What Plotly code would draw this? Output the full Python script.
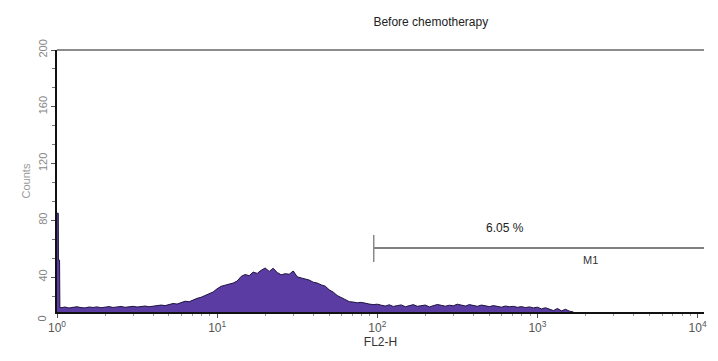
import numpy as np
import plotly.graph_objects as go

# ---- data ----
# FL2-H channel positions, given as log10 values, and histogram counts
fl2_log = [0.0, 0.008, 0.009, 0.016, 0.018] + [round(0.025 * i, 3) for i in range(1, 133)]
counts = [85.0, 85.0, 52.0, 52.0, 18.5,
          18.4, 18.9, 18.2, 18.7, 19.1, 18.5, 18.3, 18.9, 18.6, 19.0, 18.4, 18.8,
          19.2, 18.6, 18.9, 19.3, 18.7, 19.0, 19.4, 18.9, 19.2, 19.6, 19.1, 19.5,
          19.8, 20.3, 19.9, 20.8, 21.4, 21.0, 22.2, 23.0, 22.6, 24.1, 25.0, 25.8,
          26.9, 28.3, 29.5, 31.8,
          33.5, 34.3, 35.0, 35.8, 37.2, 40.5, 41.8, 41.0, 43.5, 42.6, 44.8, 46.4,
          44.0, 46.2, 43.2, 41.6, 42.4, 42.0, 44.3, 40.2,
          39.4, 38.6, 37.9, 36.4, 35.8, 34.5, 33.6, 31.0, 29.4, 27.0, 25.6, 23.8,
          22.7, 22.4, 21.9, 22.2, 21.4, 21.0, 20.6, 20.9,
          20.2, 19.6, 20.5, 19.3, 19.9, 20.4, 19.1, 19.8, 20.6, 19.4, 19.7, 20.3,
          19.0, 19.9, 20.7, 20.1, 19.5, 20.2, 19.8, 20.9, 20.4, 19.6, 20.6, 20.0,
          19.4, 20.3, 19.7, 19.2, 19.9, 19.5, 18.8, 19.6, 19.1, 19.4, 18.7, 19.2,
          18.5, 19.0, 18.3, 18.8,
          17.6, 18.4, 17.2, 16.4, 17.9, 16.2, 17.3, 16.0, 15.4, 0.0, 0.0, 0.0]

x_ticks = [1, 10, 100, 1000, 10000]
x_ticktext = ["10<sup>0</sup>", "10<sup>1</sup>", "10<sup>2</sup>", "10<sup>3</sup>", "10<sup>4</sup>"]
x_minor = [m * d for d in (1, 10, 100, 1000) for m in range(2, 10)]
y_ticks = [40, 80, 120, 160, 200]

title_text = "Before chemotherapy"
x_title = "FL2-H"
y_title = "Counts"

# M1 gate marker
gate_start = 95
gate_end = 10960
gate_y = 60.5
gate_bar = (50.6, 69.7)
gate_label = "M1"
gate_pct = "6.05 %"
pct_pos = (627, 74.6)
m1_pos = (2150, 52)

fl2 = [10 ** v for v in fl2_log]

FONT = "Liberation Sans, Arial, sans-serif"

fig = go.Figure()
fig.add_trace(go.Scatter(
    x=fl2, y=counts, mode="lines", fill="tozeroy",
    line=dict(color="#1e1240", width=1),
    fillcolor="#5a3ca2", showlegend=False, hoverinfo="skip"))

# top frame line
fig.add_shape(type="line", xref="paper", yref="paper", x0=0, x1=1, y0=1, y1=1,
              line=dict(color="#666666", width=1.5))
# gate
fig.add_shape(type="line", x0=gate_start, x1=gate_end, y0=gate_y, y1=gate_y,
              xref="x", yref="y", line=dict(color="#555555", width=1.5))
fig.add_shape(type="line", x0=gate_start, x1=gate_start, y0=gate_bar[0], y1=gate_bar[1],
              xref="x", yref="y", line=dict(color="#888888", width=1.5))
fig.add_annotation(x=np.log10(pct_pos[0]), y=pct_pos[1], text=gate_pct, showarrow=False,
                   font=dict(family=FONT, size=12, color="#222222"))
fig.add_annotation(x=np.log10(m1_pos[0]), y=m1_pos[1], text=gate_label, showarrow=False,
                   font=dict(family=FONT, size=11, color="#333333"))
# "0" label at the bottom of the y axis
fig.add_annotation(xref="paper", yref="paper", x=-0.036, y=-0.045, text="0",
                   textangle=-90, showarrow=False,
                   font=dict(family=FONT, size=11, color="#777777"))

fig.update_layout(
    width=718, height=361,
    margin=dict(l=57, r=11, t=50, b=49),
    paper_bgcolor="white", plot_bgcolor="white",
    font=dict(family=FONT, size=11, color="#333333"),
    title=dict(text=title_text, x=0.6, xref="container", y=0.94, yref="container",
               xanchor="center", yanchor="middle",
               font=dict(family=FONT, size=12, color="#222222")),
    xaxis=dict(type="log", range=[0, 4.04], tickvals=x_ticks, ticktext=x_ticktext,
               showgrid=False, zeroline=False, showline=True, linecolor="#111111",
               linewidth=1.5, ticks="outside", ticklen=4, tickcolor="#555555",
               tickfont=dict(family=FONT, size=12, color="#555555"),
               minor=dict(tickvals=x_minor, ticks="outside", ticklen=2, tickcolor="#999999"),
               title=dict(text=x_title, standoff=0, font=dict(family=FONT, size=12, color="#333333"))),
    yaxis=dict(range=[15.4, 200], tickvals=y_ticks, tickangle=-90,
               showgrid=False, zeroline=False, showline=True, linecolor="#111111",
               linewidth=2, ticks="outside", ticklen=4, tickcolor="#555555",
               tickfont=dict(family=FONT, size=11, color="#888888"),
               minor=dict(dtick=40 / 3, tick0=0, ticks="outside", ticklen=3, tickcolor="#777777"),
               title=dict(text=y_title, standoff=4, font=dict(family=FONT, size=11, color="#999999"))),
)

fig.write_html("out.html")
